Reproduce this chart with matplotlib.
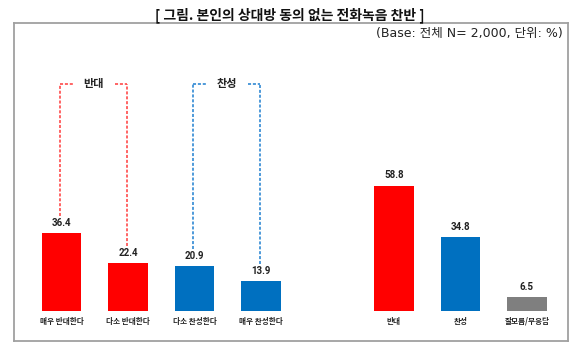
import matplotlib
matplotlib.use("Agg")
import matplotlib.pyplot as plt

plt.rcParams['font.family'] = ['Noto Sans CJK KR', 'DejaVu Sans']

categories = ['매우 반대한다', '다소 반대한다', '다소 찬성한다', '매우 찬성한다', '반대', '찬성', '잘모름/무응답']
values = [36.4, 22.4, 20.9, 13.9, 58.8, 34.8, 6.5]
positions = [0, 1, 2, 3, 5, 6, 7]
colors = ['#FF0000', '#FF0000', '#0070C0', '#0070C0', '#FF0000', '#0070C0', '#7F7F7F']
title = '[ 그림. 본인의 상대방 동의 없는 전화녹음 찬반 ]'
subtitle = '(Base: 전체 N= 2,000, 단위: %)'
groups = [('반대', 0, 1, '#FF3B3B'), ('찬성', 2, 3, '#1E7FD0')]

fig = plt.figure(figsize=(5.8, 3.53), dpi=100)
W, H = 580, 353
# axes box in pixels: left 14, right 568, top 23, bottom 341
ax = fig.add_axes([14 / W, 1 - 341 / H, (568 - 14) / W, (341 - 23) / H])
ax.set_xlim(-0.714, 7.617)
ax.set_ylim(-14.1, 135.2)
for s in ax.spines.values():
    s.set_color('#A0A0A0')
    s.set_linewidth(1.3)
ax.set_xticks([])
ax.set_yticks([])

ax.bar(positions, values, width=0.59, color=colors, edgecolor='none')
for p, v in zip(positions, values):
    ax.text(p, v + 2.5, f'{v:.1f}', ha='center', va='bottom', fontsize=7, fontweight='bold',
            color='#222222', family=['Roboto'])
for p, c in zip(positions, categories):
    ax.text(p, -4.8, c, ha='center', va='center', fontsize=5.5, fontweight='bold', color='#222222')

top = 106.6
for name, i, j, col in groups:
    xl, xr = positions[i] - 0.02, positions[j] - 0.01
    kw = dict(color=col, lw=1.1, ls=(0, (2, 1.2)))
    ax.plot([xl, xl], [values[i] + 8.3, top], **kw)
    ax.plot([xr, xr], [values[j] + 8.3, top], **kw)
    ax.plot([xl, xl + 0.19], [top, top], **kw)
    ax.plot([xr - 0.19, xr], [top, top], **kw)
    ax.text((xl + xr) / 2, top, name, ha='center', va='center', fontsize=8, fontweight='bold', color='#222222')

fig.text(290 / W, 1 - 15 / H, title, ha='center', va='center', fontsize=10, fontweight='bold', color='#111111')
fig.text(563 / W, 1 - 33 / H, subtitle, ha='right', va='center', fontsize=9, color='#222222',
         family=['DejaVu Sans', 'Noto Sans CJK KR'])

fig.savefig('out.png', dpi=100)
